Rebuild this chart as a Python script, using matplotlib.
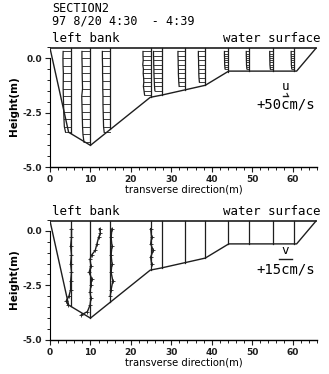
import matplotlib.pyplot as plt
from matplotlib.ticker import MultipleLocator

# cross section of the river (m)
surface_z = 0.45
bed_x = [0.0, 4.6, 10.0, 24.8, 27.6, 33.6, 38.4, 44.2, 61.0, 65.8]
bed_z = [0.45, -3.4, -4.0, -1.8, -1.7, -1.45, -1.25, -0.6, -0.6, 0.45]

station_x = [5.1, 9.9, 14.9, 24.9, 27.6, 33.4, 38.3, 44.0, 49.3, 55.1, 60.4]

# measuring depths (m) and streamwise velocity u (cm/s) at each station
u_z1 = [0.3, 0.0, -0.35, -0.7, -1.05, -1.4, -1.75, -2.1, -2.45, -2.8, -3.15, -3.4]
u_v1 = [74, 76, 75, 72, 73, 74, 72, 70, 68, 66, 62, 50]
u_z2 = [0.3, 0.0, -0.35, -0.7, -1.05, -1.4, -1.75, -2.1, -2.45, -2.8, -3.15, -3.5, -3.85]
u_v2 = [80, 80, 78, 78, 76, 74, 82, 80, 78, 76, 74, 70, 60]
u_z3 = [0.3, 0.0, -0.35, -0.7, -1.05, -1.4, -1.75, -2.1, -2.45, -2.8, -3.15, -3.4]
u_v3 = [78, 78, 76, 76, 74, 74, 72, 72, 70, 68, 66, 60]
u_z4 = [0.3, 0.1, -0.1, -0.3, -0.5, -0.7, -0.9, -1.1, -1.3, -1.5, -1.7]
u_v4 = [76, 76, 74, 78, 72, 74, 70, 68, 72, 66, 60]
u_z5 = [0.3, 0.1, -0.1, -0.3, -0.5, -0.7, -0.9, -1.1, -1.3, -1.5]
u_v5 = [80, 80, 78, 78, 76, 76, 74, 72, 70, 66]
u_z6 = [0.3, 0.1, -0.1, -0.3, -0.5, -0.7, -0.9, -1.1, -1.3]
u_v6 = [70, 70, 68, 68, 66, 66, 64, 62, 58]
u_z7 = [0.3, 0.1, -0.1, -0.3, -0.5, -0.7, -0.9, -1.1]
u_v7 = [64, 64, 62, 62, 60, 60, 58, 54]
u_z8 = [0.3, 0.2, 0.1, 0.0, -0.1, -0.2, -0.3, -0.4, -0.5]
u_v8 = [34, 34, 34, 33, 33, 32, 32, 30, 28]
u_z9 = [0.3, 0.2, 0.1, 0.0, -0.1, -0.2, -0.3, -0.4, -0.5]
u_v9 = [30, 30, 30, 29, 29, 28, 28, 26, 24]
u_z10 = [0.3, 0.2, 0.1, 0.0, -0.1, -0.2, -0.3, -0.4, -0.5]
u_v10 = [30, 30, 30, 29, 29, 28, 28, 26, 24]
u_z11 = [0.3, 0.2, 0.1, 0.0, -0.1, -0.2, -0.3, -0.4, -0.5]
u_v11 = [30, 30, 30, 29, 29, 28, 28, 26, 24]

# transverse velocity v (cm/s), only measured at the first four stations
v_z1 = [0.1, -0.3, -0.7, -1.1, -1.5, -1.9, -2.3, -2.7, -3.0, -3.2, -3.4]
v_v1 = [1, 1, 0, 1, 0, 1, 0, 0, -2, -5, -3]
v_z2 = [0.1, -0.1, -0.3, -0.6, -0.9, -1.1, -1.3, -1.6, -1.9, -2.2, -2.5, -2.8, -3.1, -3.4, -3.7, -3.85]
v_v2 = [11, 12, 10, 8, 6, 2, 0, 1, -1, 2, 1, 0, 1, 0, -3, -10]
v_z3 = [0.1, -0.3, -0.7, -1.1, -1.5, -1.9, -2.3, -2.7, -3.0]
v_v3 = [2, 1, 2, 1, 2, 1, 3, 1, 0]
v_z4 = [0.1, -0.3, -0.6, -0.9, -1.2, -1.5]
v_v4 = [0, 1, 0, 3, 0, 1]

u_profiles = [(u_z1, u_v1), (u_z2, u_v2), (u_z3, u_v3), (u_z4, u_v4),
              (u_z5, u_v5), (u_z6, u_v6), (u_z7, u_v7), (u_z8, u_v8),
              (u_z9, u_v9), (u_z10, u_v10), (u_z11, u_v11)]
v_profiles = [(v_z1, v_v1), (v_z2, v_v2), (v_z3, v_v3), (v_z4, v_v4)]

U_SCALE = 1.25 / 50.0   # m of plot per cm/s
V_SCALE = 3.2 / 15.0

ink = '#1e1e1e'
mono = 'DejaVu Sans Mono'


def bed_at(x):
    for i in range(len(bed_x) - 1):
        if bed_x[i] <= x <= bed_x[i + 1]:
            t = (x - bed_x[i]) / (bed_x[i + 1] - bed_x[i])
            return bed_z[i] + t * (bed_z[i + 1] - bed_z[i])
    return bed_z[-1]


def setup_axes(ax):
    ax.plot(bed_x, bed_z, color=ink, lw=1.0)
    ax.plot([bed_x[0], bed_x[-1]], [surface_z, surface_z], color=ink, lw=1.2)
    for sx in station_x:
        ax.plot([sx, sx], [surface_z, bed_at(sx)], color=ink, lw=0.9)
    ax.set_xlim(0, 66)
    ax.set_ylim(-5.0, 0.55)
    for s in ['top', 'right']:
        ax.spines[s].set_visible(False)
    ax.spines['left'].set_bounds(-5.0, 0.0)
    ax.spines['left'].set_linewidth(0.8)
    ax.spines['bottom'].set_linewidth(1.0)
    ax.xaxis.set_major_locator(MultipleLocator(10))
    ax.xaxis.set_minor_locator(MultipleLocator(2))
    ax.yaxis.set_minor_locator(MultipleLocator(0.5))
    ax.tick_params(which='major', length=3.5, width=0.8, labelsize=6.5, pad=2, colors=ink)
    ax.tick_params(which='minor', length=2, width=0.7, colors=ink)
    ax.set_yticks([0.0, -2.5, -5.0])
    ax.set_yticklabels(['0.0', '-2.5', '-5.0'], fontweight='bold')
    for lab in ax.get_xticklabels():
        lab.set_fontweight('bold')
    ax.set_ylabel('Height(m)', fontsize=7.5, labelpad=3, fontweight='bold')
    ax.set_xlabel('transverse direction(m)', fontsize=7.2, labelpad=0.5)
    ax.text(0.4, 0.6, 'left bank', fontsize=9, family=mono, va='bottom')
    ax.text(66.8, 0.6, 'water surface', fontsize=9, family=mono, va='bottom', ha='right')


fig = plt.figure(figsize=(3.29, 3.74), dpi=100)
ax1 = fig.add_axes([0.152, 0.553, 0.811, 0.324])
ax2 = fig.add_axes([0.152, 0.091, 0.811, 0.324])

setup_axes(ax1)
for sx, (zs, us) in zip(station_x, u_profiles):
    ends = [sx - u * U_SCALE for u in us]
    for z, xe in zip(zs, ends):
        ax1.plot([xe, sx], [z, z], color=ink, lw=0.6)
    ax1.plot(ends, zs, color=ink, lw=0.9)
ax1.plot([57.6, 58.85], [-1.72, -1.72], color=ink, lw=1.0)
ax1.plot([58.6, 58.85], [-1.62, -1.72], color=ink, lw=0.8)
ax1.text(58.2, -1.62, 'u', fontsize=9, family=mono, ha='center', va='bottom')
ax1.text(58.2, -2.15, '+50cm/s', fontsize=10, family=mono, ha='center', va='center')

setup_axes(ax2)
for sx, (zs, vs) in zip(station_x, v_profiles):
    xs = [sx + v * V_SCALE for v in vs]
    ax2.plot(xs, zs, color=ink, lw=1.0, marker='+', ms=3, mew=0.6)
ax2.plot([56.6, 59.8], [-1.3, -1.3], color=ink, lw=1.0)
ax2.text(58.2, -1.2, 'v', fontsize=9, family=mono, ha='center', va='bottom')
ax2.text(58.2, -1.75, '+15cm/s', fontsize=10, family=mono, ha='center', va='center')

fig.text(0.158, 0.977, 'SECTION2', fontsize=8.5, family=mono, va='center')
fig.text(0.158, 0.943, '97 8/20 4:30  - 4:39', fontsize=8.5, family=mono, va='center')

fig.savefig('out.png', dpi=100)
